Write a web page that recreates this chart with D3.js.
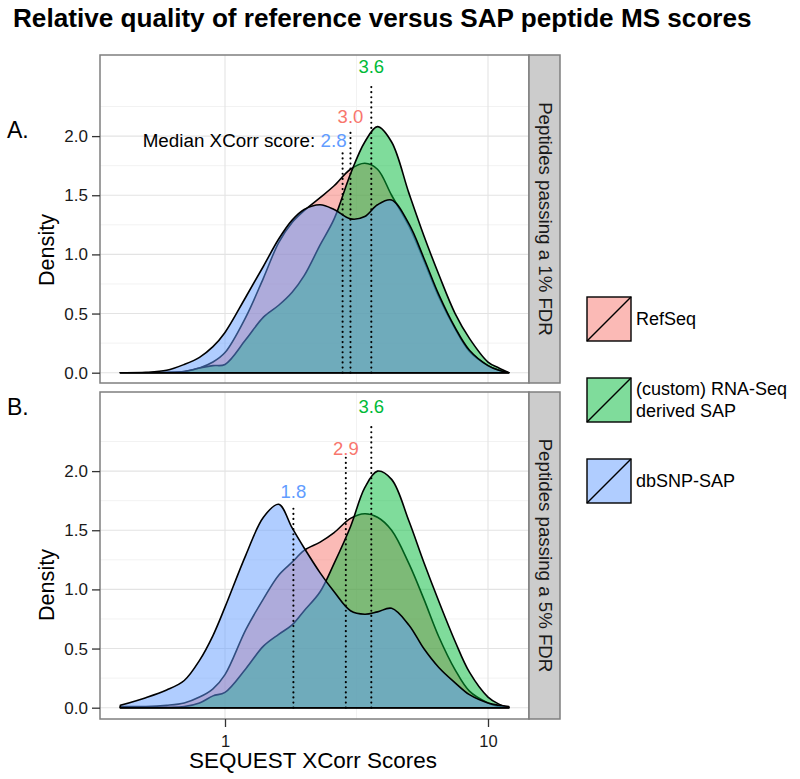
<!DOCTYPE html>
<html><head><meta charset="utf-8">
<script src="https://cdn.jsdelivr.net/npm/d3@7"></script>
<style>
body{margin:0;background:#fff}
svg{display:block}
text{font-family:"Liberation Sans",Arial,Helvetica,sans-serif}
</style></head>
<body><svg id="c" width="800" height="779"></svg>
<script>
// ---------- data ----------
const scores   = [0.4,0.5,0.6,0.7,0.8,0.9,1.0,1.2,1.4,1.6,1.8,2.0,2.3,2.6,3.0,3.4,3.8,4.3,5.0,5.7,6.5,7.5,8.5,10,11,12];
// Panel A: peptides passing a 1% FDR
const refseqA  = [0,0,0.003,0.01,0.04,0.09,0.17,0.47,0.80,1.10,1.27,1.37,1.48,1.58,1.72,1.77,1.72,1.50,1.24,0.95,0.64,0.37,0.18,0.06,0.02,0];
const rnaA     = [0,0,0.002,0.01,0.04,0.06,0.07,0.28,0.47,0.57,0.68,0.82,1.08,1.30,1.68,1.95,2.08,1.95,1.52,1.16,0.83,0.50,0.29,0.09,0.04,0];
const dbsnpA   = [0,0.003,0.02,0.07,0.13,0.22,0.34,0.64,0.90,1.13,1.29,1.38,1.42,1.38,1.30,1.32,1.42,1.46,1.26,0.97,0.66,0.38,0.19,0.06,0.02,0];
// Panel B: peptides passing a 5% FDR
const refseqB  = [0.01,0.01,0.02,0.04,0.09,0.16,0.28,0.66,0.92,1.12,1.23,1.33,1.40,1.48,1.60,1.64,1.61,1.50,1.22,0.92,0.60,0.32,0.14,0.04,0.01,0];
const rnaB     = [0,0,0.003,0.01,0.04,0.10,0.13,0.33,0.52,0.62,0.70,0.82,0.98,1.22,1.53,1.86,2.00,1.93,1.58,1.23,0.90,0.56,0.30,0.09,0.03,0];
const dbsnpB   = [0.02,0.085,0.15,0.23,0.40,0.61,0.85,1.29,1.61,1.72,1.52,1.35,1.14,0.98,0.82,0.79,0.81,0.84,0.70,0.50,0.34,0.21,0.11,0.04,0.02,0.01];

const seriesNames = ["RefSeq", "(custom) RNA-Seq derived SAP", "dbSNP-SAP"];
const seriesColors = ["#F8766D", "#00BA38", "#619CFF"];
const medianA = [3.0, 3.6, 2.8];
const medianB = [2.88, 3.6, 1.82];
const facetLabels = ["Peptides passing a 1% FDR", "Peptides passing a 5% FDR"];
const panelTags = ["A.", "B."];
const yTicks = [0, 0.5, 1.0, 1.5, 2.0];
const yMinor = [0.25, 0.75, 1.25, 1.75, 2.25];
const xTicks = [1, 10];
const xMinor = [Math.sqrt(10)];

// annotation heights (data units): [line top, label baseline] per series
const annotA = [[2.05, 2.11], [2.45, 2.535], [1.86, 1.905]];
const annotB = [[2.12, 2.136], [2.39, 2.49], [1.70, 1.775]];

// ---------- layout ----------
const svg = d3.select("#c");
const left = 100, right = 529, stripW = 31;
const panels = [
  {top: 55, bottom: 383, y0: 372.7, y2: 136.1, data: [refseqA, rnaA, dbsnpA], med: medianA, ann: annotA},
  {top: 392, bottom: 719, y0: 707.7, y2: 471.1, data: [refseqB, rnaB, dbsnpB], med: medianB, ann: annotB}
];
const x = d3.scaleLog().domain([Math.pow(10, -125/263), Math.pow(10, 304/263)]).range([left, right]);

function fitWidth(sel, target) {
  const w = sel.node().getComputedTextLength();
  const fs = parseFloat(sel.attr("font-size"));
  sel.attr("font-size", (fs * target / w).toFixed(2));
}

// title
const title = svg.append("text").attr("x", 13).attr("y", 27)
  .attr("font-size", 23).attr("font-weight", "bold").attr("fill", "#000")
  .text("Relative quality of reference versus SAP peptide MS scores");
fitWidth(title, 739);

panels.forEach((p, pi) => {
  const y = d3.scaleLinear().domain([0, 2]).range([p.y0, p.y2]);
  const g = svg.append("g");
  g.append("rect").attr("x", left).attr("y", p.top).attr("width", right - left).attr("height", p.bottom - p.top).attr("fill", "#fff");
  yMinor.forEach(v => g.append("line").attr("x1", left).attr("x2", right).attr("y1", y(v)).attr("y2", y(v)).attr("stroke", "#F2F2F2").attr("stroke-width", 1));
  xMinor.forEach(v => g.append("line").attr("x1", x(v)).attr("x2", x(v)).attr("y1", p.top).attr("y2", p.bottom).attr("stroke", "#F2F2F2").attr("stroke-width", 1));
  yTicks.forEach(v => g.append("line").attr("x1", left).attr("x2", right).attr("y1", y(v)).attr("y2", y(v)).attr("stroke", "#E3E3E3").attr("stroke-width", 1.1));
  xTicks.forEach(v => g.append("line").attr("x1", x(v)).attr("x2", x(v)).attr("y1", p.top).attr("y2", p.bottom).attr("stroke", "#E3E3E3").attr("stroke-width", 1.1));

  const area = d3.area().x((d, i) => x(scores[i])).y0(y(0)).y1(d => y(Math.max(0, d))).curve(d3.curveCatmullRom.alpha(0.5));
  p.data.forEach((vals, si) => {
    g.append("path").datum(vals).attr("d", d => area(d) + "Z")
      .attr("fill", seriesColors[si]).attr("fill-opacity", 0.5)
      .attr("stroke", "#000").attr("stroke-width", 1.6).attr("stroke-linejoin", "round");
  });

  p.med.forEach((m, si) => {
    g.append("line").attr("x1", x(m)).attr("x2", x(m)).attr("y1", y(0)).attr("y2", y(p.ann[si][0]))
      .attr("stroke", "#000").attr("stroke-width", 2.1).attr("stroke-dasharray", "0.1,5").attr("stroke-linecap", "round");
  });
  p.med.forEach((m, si) => {
    const t = g.append("text").attr("y", y(p.ann[si][1])).attr("font-size", 18.5);
    if (pi === 0 && si === 2) {
      t.attr("x", x(m) + 4).attr("text-anchor", "end");
      t.append("tspan").attr("fill", "#000").text("Median XCorr score: ");
      t.append("tspan").attr("fill", seriesColors[si]).text(m.toFixed(1));
      fitWidth(t, 204);
    } else {
      t.attr("x", x(m)).attr("text-anchor", "middle").attr("fill", seriesColors[si]).text(m.toFixed(1));
    }
  });

  g.append("rect").attr("x", left).attr("y", p.top).attr("width", right - left).attr("height", p.bottom - p.top)
    .attr("fill", "none").attr("stroke", "#7F7F7F").attr("stroke-width", 1.5);
  g.append("rect").attr("x", right).attr("y", p.top).attr("width", stripW).attr("height", p.bottom - p.top)
    .attr("fill", "#CCCCCC").attr("stroke", "#7F7F7F").attr("stroke-width", 1.5);
  const st = g.append("text").attr("transform", `translate(${right + stripW / 2 + 1},${(p.top + p.bottom) / 2}) rotate(90)`)
    .attr("text-anchor", "middle").attr("dy", "0.35em").attr("font-size", 18).attr("fill", "#1a1a1a").text(facetLabels[pi]);
  fitWidth(st, 234);

  const ya = g.append("g").attr("transform", `translate(${left},0)`)
    .call(d3.axisLeft(y).tickValues(yTicks).tickFormat(d3.format(".1f")).tickSize(8).tickPadding(4));
  ya.select(".domain").remove();
  ya.selectAll(".tick line").attr("stroke", "#333").attr("stroke-width", 1.3);
  ya.selectAll(".tick text").attr("font-size", 17).attr("fill", "#1a1a1a").attr("font-family", "Liberation Sans, Arial, sans-serif");

  const yt = g.append("text").attr("transform", `translate(54,${pi === 0 ? 250 : 585}) rotate(-90)`)
    .attr("text-anchor", "middle").attr("font-size", 20).attr("fill", "#000").text("Density");
  fitWidth(yt, 72);

  g.append("text").attr("x", 7).attr("y", pi === 0 ? 138 : 415).attr("font-size", 23).attr("fill", "#000").text(panelTags[pi]);

  if (pi === 1) {
    const xa = g.append("g").attr("transform", `translate(0,${p.bottom})`)
      .call(d3.axisBottom(x).tickValues(xTicks).tickFormat(d3.format("d")).tickSize(8).tickPadding(8));
    xa.select(".domain").remove();
    xa.selectAll(".tick line").attr("stroke", "#333").attr("stroke-width", 1.3);
    xa.selectAll(".tick text").attr("font-size", 16.5).attr("fill", "#1a1a1a").attr("font-family", "Liberation Sans, Arial, sans-serif");
    const xt = g.append("text").attr("x", 313).attr("y", 768).attr("text-anchor", "middle")
      .attr("font-size", 21).attr("fill", "#000").text("SEQUEST XCorr Scores");
    fitWidth(xt, 248);
  }
});

// legend
const keyX = 587, keyS = 44;
const keyTops = [297, 378, 459];
const legendLines = [["RefSeq"], ["(custom) RNA-Seq", "derived SAP"], ["dbSNP-SAP"]];
seriesNames.forEach((name, i) => {
  const lg = svg.append("g");
  lg.append("rect").attr("x", keyX).attr("y", keyTops[i]).attr("width", keyS).attr("height", keyS).attr("fill", "#fff");
  lg.append("rect").attr("x", keyX).attr("y", keyTops[i]).attr("width", keyS).attr("height", keyS)
    .attr("fill", seriesColors[i]).attr("fill-opacity", 0.5).attr("stroke", "#000").attr("stroke-width", 1.4);
  lg.append("line").attr("x1", keyX).attr("y1", keyTops[i] + keyS).attr("x2", keyX + keyS).attr("y2", keyTops[i])
    .attr("stroke", "#000").attr("stroke-width", 1.4);
  const lines = legendLines[i];
  const cy = keyTops[i] + keyS / 2;
  lines.forEach((ln, j) => {
    lg.append("text").attr("x", 636).attr("y", cy + (j - (lines.length - 1) / 2) * 22).attr("dy", "0.35em")
      .attr("font-size", 18).attr("fill", "#000").text(ln);
  });
});
</script></body></html>
